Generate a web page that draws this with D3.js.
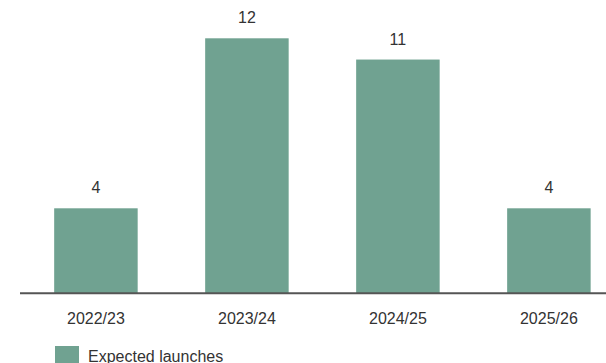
<!DOCTYPE html>
<html>
<head>
<meta charset="utf-8">
<script src="https://cdn.jsdelivr.net/npm/d3@7"></script>
<style>
    html, body { margin: 0; padding: 0; background: #fff; }
    svg { display: block; font-family: "Liberation Sans", Arial, sans-serif; }
</style>
</head>
<body>
<svg id="chart" width="606" height="363"></svg>
<script>
var years = ["2022/23", "2023/24", "2024/25", "2025/26"];
var launches = [4, 12, 11, 4];
var seriesName = "Expected launches";

var W = 606, H = 363;
var barColor = "#70a291";
var textColor = "#333333";

var svg = d3.select("#chart");

var xScale = d3.scaleBand()
    .domain(years)
    .range([20, W])
    .paddingInner(0.447)
    .paddingOuter(0.164)
    .align(0.69);

var yScale = d3.scaleLinear()
    .domain([0, 12])
    .range([293.3, 38.3]);

var data = years.map(function (y, i) {
    return { x: y, y: launches[i] };
});

// bars
svg.append("g").selectAll("rect")
    .data(data)
    .enter().append("rect")
    .attr("x", function (d) { return xScale(d.x); })
    .attr("y", function (d) { return yScale(d.y); })
    .attr("width", xScale.bandwidth())
    .attr("height", function (d) { return yScale(0) - yScale(d.y); })
    .style("fill", barColor);

// value labels
svg.append("g").selectAll("text")
    .data(data)
    .enter().append("text")
    .attr("x", function (d) { return xScale(d.x) + xScale.bandwidth() / 2; })
    .attr("y", function (d) { return yScale(d.y) - 15; })
    .attr("text-anchor", "middle")
    .style("font-size", "16px")
    .style("fill", textColor)
    .text(function (d) { return d.y; });

// x axis: baseline + year labels
var xAxis = d3.axisBottom(xScale).tickSize(0).tickPadding(0);
var axisG = svg.append("g")
    .attr("transform", "translate(0," + yScale(0) + ")")
    .call(xAxis);
axisG.select(".domain").remove();
axisG.selectAll("text")
    .attr("y", 31)
    .attr("dy", null)
    .style("font-size", "16px")
    .style("font-family", "\"Liberation Sans\", Arial, sans-serif")
    .style("fill", textColor);
svg.append("line")
    .attr("x1", 20)
    .attr("x2", W)
    .attr("y1", yScale(0))
    .attr("y2", yScale(0))
    .style("stroke", "#555555")
    .style("stroke-width", 2);

// legend
var legend = svg.append("g").attr("transform", "translate(55,346)");
legend.append("rect")
    .attr("width", 24)
    .attr("height", 24)
    .style("fill", barColor);
legend.append("text")
    .attr("x", 33)
    .attr("y", 15.5)
    .style("font-size", "16px")
    .style("fill", textColor)
    .text(seriesName);
</script>
</body>
</html>
